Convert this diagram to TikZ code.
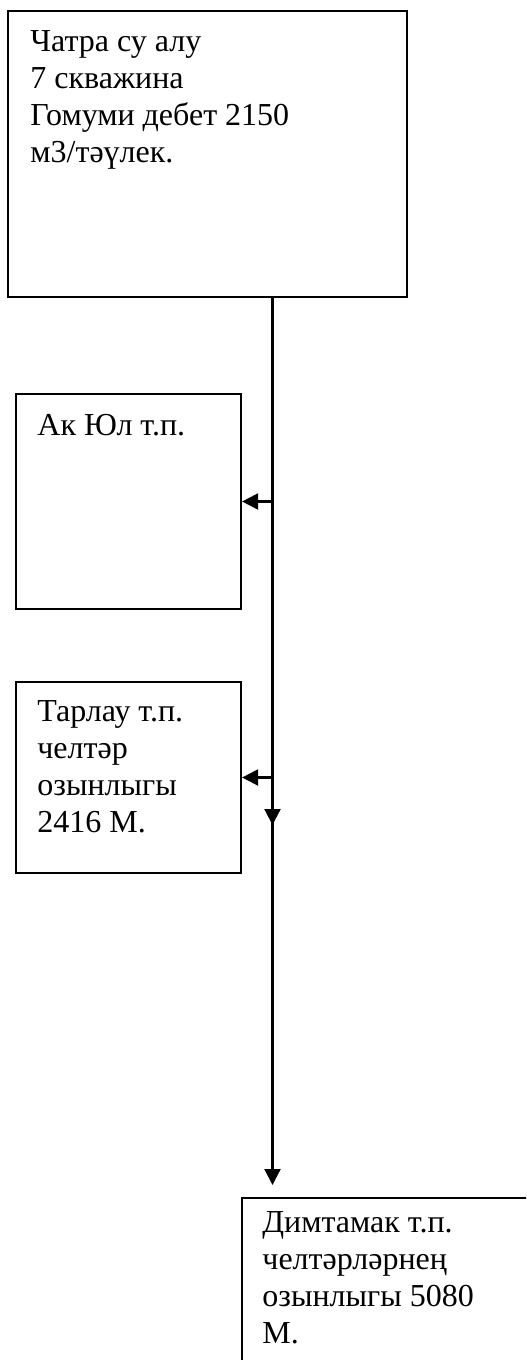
\documentclass[tikz,border=0pt]{standalone}
\usepackage{fontspec}
\setmainfont{Liberation Serif}
\usetikzlibrary{arrows.meta}
\begin{document}
\begin{tikzpicture}[x=0.5pt,y=-0.5pt,
  box/.style={draw,line width=1.1pt,inner sep=0pt,rectangle},
  txt/.style={anchor=base west,align=left,inner sep=0pt,font=\fontsize{16pt}{18.5pt}\selectfont},
  conn/.style={line width=1.1pt},
  arr/.style={conn,-{Triangle[length=8pt,width=8pt]}}]
\useasboundingbox (0,0) rectangle (526,1360);
\clip (0,0) rectangle (526,1360);
% boxes
\node[box,minimum width=199.5pt,minimum height=143pt] (top) at (207.5,154) {};
\node[box,minimum width=112.5pt,minimum height=107.5pt] (ak) at (128.5,501.5) {};
\node[box,minimum width=112.5pt,minimum height=95.5pt] (tar) at (128.5,777.5) {};
\node[box,minimum width=159pt,minimum height=101pt] (dim) at (401,1299) {};
% texts (anchored at the baseline of their last line)
\node[txt] (toptxt) at (30,162) {Чатра су алу\\7 скважина\\Гомуми дебет 2150\\м3/тәүлек.};
\node[txt] (aktxt) at (37,435) {Ак Юл т.п.};
\node[txt] (tartxt) at (37,832) {Тарлау т.п.\\челтәр\\озынлыгы\\2416 М.};
\node[txt] (dimtxt) at (262,1343) {Димтамак т.п.\\челтәрләрнең\\озынлыгы 5080\\М.};
% trunk coordinates
\coordinate (trunk) at (272.5,0);
\coordinate (s2) at (272.5,563);
\coordinate (e1) at (272.5,825);
\coordinate (e2) at (272.5,1185);
% connectors
\draw[arr] (top.south -| trunk) -- (e2);
\draw[arr] (s2) -- (e1);
\draw[arr] (ak.east -| trunk) -- (ak.east);
\draw[arr] (tar.east -| trunk) -- (tar.east);
\end{tikzpicture}
\end{document}
